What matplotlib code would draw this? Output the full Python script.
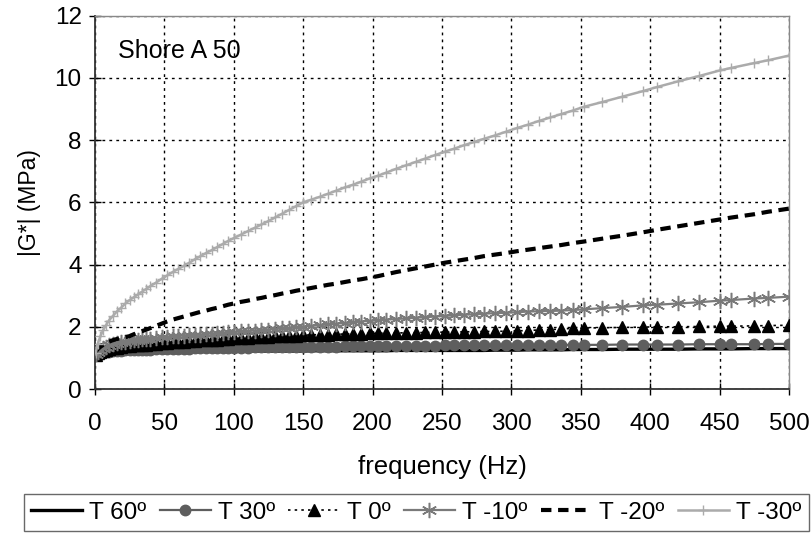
import matplotlib
matplotlib.use("Agg")
import matplotlib.pyplot as plt

plt.rcParams['font.family'] = ['Liberation Sans', 'DejaVu Sans']

freq = [0.5, 2, 4, 6, 8, 10,
        13, 16, 19, 22, 25,
        28, 31, 34, 37, 40,
        44, 48, 52, 56, 60,
        64, 68, 72, 76, 80,
        84, 88, 92, 96, 100,
        105, 110, 115, 120, 125,
        130, 135, 140, 145, 150,
        156, 162, 168, 174, 180,
        186, 192, 198, 204, 210,
        217, 224, 231, 238, 245,
        252, 259, 266, 273, 280,
        288, 296, 304, 312, 320,
        328, 336, 344, 352,
        365, 380, 395, 405, 420,
        435, 450, 458, 475, 485, 500]

t_m30 = [1.15, 1.45, 1.7, 1.9, 2.05, 2.2,
         2.35, 2.5, 2.62, 2.75, 2.86,
         2.95, 3.04, 3.13, 3.22, 3.31,
         3.42, 3.54, 3.65, 3.76, 3.86,
         3.96, 4.06, 4.17, 4.27, 4.37,
         4.46, 4.56, 4.66, 4.76, 4.85,
         4.96, 5.07, 5.18, 5.29, 5.4,
         5.52, 5.64, 5.76, 5.88, 6.0,
         6.09, 6.18, 6.28, 6.38, 6.48,
         6.57, 6.67, 6.77, 6.86, 6.96,
         7.08, 7.19, 7.3, 7.41, 7.52,
         7.63, 7.73, 7.84, 7.94, 8.04,
         8.15, 8.27, 8.39, 8.5, 8.62,
         8.73, 8.84, 8.95, 9.07,
         9.22, 9.4, 9.58, 9.71, 9.89,
         10.06, 10.24, 10.32, 10.48, 10.57, 10.72]

t_m20 = [1.2, 1.28, 1.36, 1.42, 1.48, 1.52,
         1.57, 1.61, 1.64, 1.67, 1.7,
         1.76, 1.81, 1.86, 1.91, 1.96,
         2.03, 2.1, 2.17, 2.23, 2.28,
         2.33, 2.38, 2.43, 2.48, 2.52,
         2.57, 2.61, 2.66, 2.71, 2.75,
         2.8, 2.84, 2.89, 2.93, 2.98,
         3.02, 3.07, 3.11, 3.16, 3.2,
         3.25, 3.3, 3.35, 3.39, 3.44,
         3.49, 3.53, 3.58, 3.63, 3.69,
         3.76, 3.82, 3.88, 3.94, 4.0,
         4.06, 4.11, 4.16, 4.21, 4.27,
         4.32, 4.37, 4.43, 4.48, 4.53,
         4.58, 4.63, 4.69, 4.74,
         4.83, 4.93, 5.04, 5.12, 5.23,
         5.34, 5.45, 5.51, 5.62, 5.7, 5.8]

t_m10 = [1.12, 1.2, 1.27, 1.32, 1.36, 1.4,
         1.44, 1.47, 1.5, 1.52, 1.54,
         1.56, 1.58, 1.6, 1.61, 1.62,
         1.64, 1.66, 1.68, 1.69, 1.7,
         1.72, 1.73, 1.74, 1.75, 1.77,
         1.78, 1.79, 1.8, 1.82, 1.83,
         1.85, 1.86, 1.88, 1.89, 1.91,
         1.93, 1.95, 1.96, 1.98, 2.0,
         2.03, 2.05, 2.08, 2.1, 2.12,
         2.14, 2.17, 2.19, 2.21, 2.23,
         2.25, 2.27, 2.29, 2.31, 2.33,
         2.35, 2.37, 2.39, 2.4, 2.42,
         2.44, 2.45, 2.47, 2.49, 2.5,
         2.51, 2.52, 2.54, 2.56,
         2.6, 2.64, 2.69, 2.71, 2.75,
         2.79, 2.84, 2.86, 2.91, 2.93, 2.97]

t_0 = [1.1, 1.15, 1.2, 1.23, 1.26, 1.28,
       1.31, 1.33, 1.35, 1.37, 1.38,
       1.4, 1.41, 1.42, 1.43, 1.45,
       1.46, 1.47, 1.49, 1.5, 1.51,
       1.52, 1.53, 1.54, 1.56, 1.57,
       1.58, 1.59, 1.6, 1.62, 1.63,
       1.64, 1.65, 1.66, 1.67, 1.68,
       1.69, 1.7, 1.71, 1.72, 1.73,
       1.74, 1.75, 1.75, 1.76, 1.77,
       1.77, 1.78, 1.79, 1.79, 1.8,
       1.8, 1.81, 1.81, 1.82, 1.82,
       1.83, 1.83, 1.84, 1.84, 1.85,
       1.85, 1.86, 1.87, 1.88, 1.9,
       1.91, 1.93, 1.95, 1.96,
       1.97, 1.98, 1.99, 2.0, 2.0,
       2.01, 2.02, 2.02, 2.03, 2.04, 2.05]

t_30 = [1.08, 1.12, 1.15, 1.17, 1.19, 1.2,
        1.21, 1.22, 1.23, 1.24, 1.25,
        1.25, 1.26, 1.26, 1.27, 1.27,
        1.28, 1.28, 1.29, 1.29, 1.3,
        1.3, 1.3, 1.31, 1.31, 1.31,
        1.32, 1.32, 1.32, 1.33, 1.33,
        1.33, 1.33, 1.34, 1.34, 1.34,
        1.34, 1.35, 1.35, 1.35, 1.35,
        1.36, 1.36, 1.36, 1.36, 1.37,
        1.37, 1.37, 1.38, 1.38, 1.38,
        1.38, 1.39, 1.39, 1.39, 1.39,
        1.4, 1.4, 1.4, 1.4, 1.4,
        1.41, 1.41, 1.41, 1.41, 1.41,
        1.42, 1.42, 1.42, 1.42,
        1.42, 1.43, 1.43, 1.43, 1.43,
        1.44, 1.44, 1.44, 1.44, 1.45, 1.45]

t_60 = [1.05, 1.08, 1.1, 1.12, 1.13, 1.14,
        1.15, 1.16, 1.16, 1.17, 1.17,
        1.17, 1.18, 1.18, 1.18, 1.19,
        1.19, 1.19, 1.2, 1.2, 1.2,
        1.2, 1.2, 1.21, 1.21, 1.21,
        1.21, 1.21, 1.21, 1.22, 1.22,
        1.22, 1.22, 1.22, 1.22, 1.22,
        1.22, 1.22, 1.22, 1.22, 1.22,
        1.23, 1.23, 1.23, 1.23, 1.23,
        1.23, 1.23, 1.23, 1.23, 1.23,
        1.24, 1.24, 1.24, 1.24, 1.24,
        1.24, 1.24, 1.24, 1.24, 1.24,
        1.25, 1.25, 1.25, 1.26, 1.26,
        1.26, 1.26, 1.27, 1.27,
        1.27, 1.28, 1.28, 1.28, 1.28,
        1.29, 1.29, 1.29, 1.3, 1.3, 1.3]

labels = ["T 60º", "T 30º", "T 0º", "T -10º", "T -20º", "T -30º"]

fig = plt.figure(figsize=(8.11, 5.34), dpi=100)
ax = fig.add_axes([0.117, 0.2715, 0.856, 0.699])

ax.plot(freq, t_60, color='black', lw=2.4, label=labels[0], zorder=3)
ax.plot(freq, t_30, color='#5e5e5e', lw=1.6, marker='o', ms=7.5, label=labels[1], zorder=3)
ax.plot(freq, t_0, color='black', lw=1.2, ls=(0, (1.5, 2.5)), marker='^', ms=9,
        label=labels[2], zorder=3)
ax.plot(freq, t_m10, color='#7a7a7a', lw=1.6, marker=(6, 2, 0), ms=11, mew=1.1,
        label=labels[3], zorder=3)
ax.plot(freq, t_m20, color='black', lw=3.0, ls=(0, (2.5, 1.6)), label=labels[4], zorder=3)
ax.plot(freq, t_m30, color='#ababab', lw=1.8, marker='+', ms=7, mew=1.0,
        label=labels[5], zorder=3)

ax.set_xlim(0, 500)
ax.set_ylim(0, 12)
ax.set_xticks(range(0, 501, 50))
ax.set_yticks(range(0, 13, 2))
ax.grid(True, color='black', ls=(0, (2, 3)), lw=1.0)
ax.tick_params(direction='inout', length=9, width=1.0, labelsize=17.5, colors='black')
ax.tick_params(axis='x', pad=13)
ax.tick_params(axis='y', pad=5)
for s in ['left', 'bottom']:
    ax.spines[s].set_color('#333333')
    ax.spines[s].set_linewidth(1.3)
for s in ['top', 'right']:
    ax.spines[s].set_color('#888888')
    ax.spines[s].set_linewidth(1.0)

ax.set_xlabel("frequency (Hz)", fontsize=18.5, labelpad=14)
ax.set_ylabel("|G*| (MPa)", fontsize=16.5, labelpad=10)
ax.text(0.034, 0.905, "Shore A 50", transform=ax.transAxes, fontsize=18,
        ha='left', va='center')

leg = fig.legend(loc='center', bbox_to_anchor=(0.513, 0.040),
                 ncol=6, fontsize=17.5, frameon=True, fancybox=False, edgecolor='#444444',
                 handlelength=2.1, handletextpad=0.3, columnspacing=0.55,
                 borderpad=0.3, borderaxespad=0.0)
leg.get_frame().set_linewidth(1.0)

fig.savefig("out.png", dpi=100)
